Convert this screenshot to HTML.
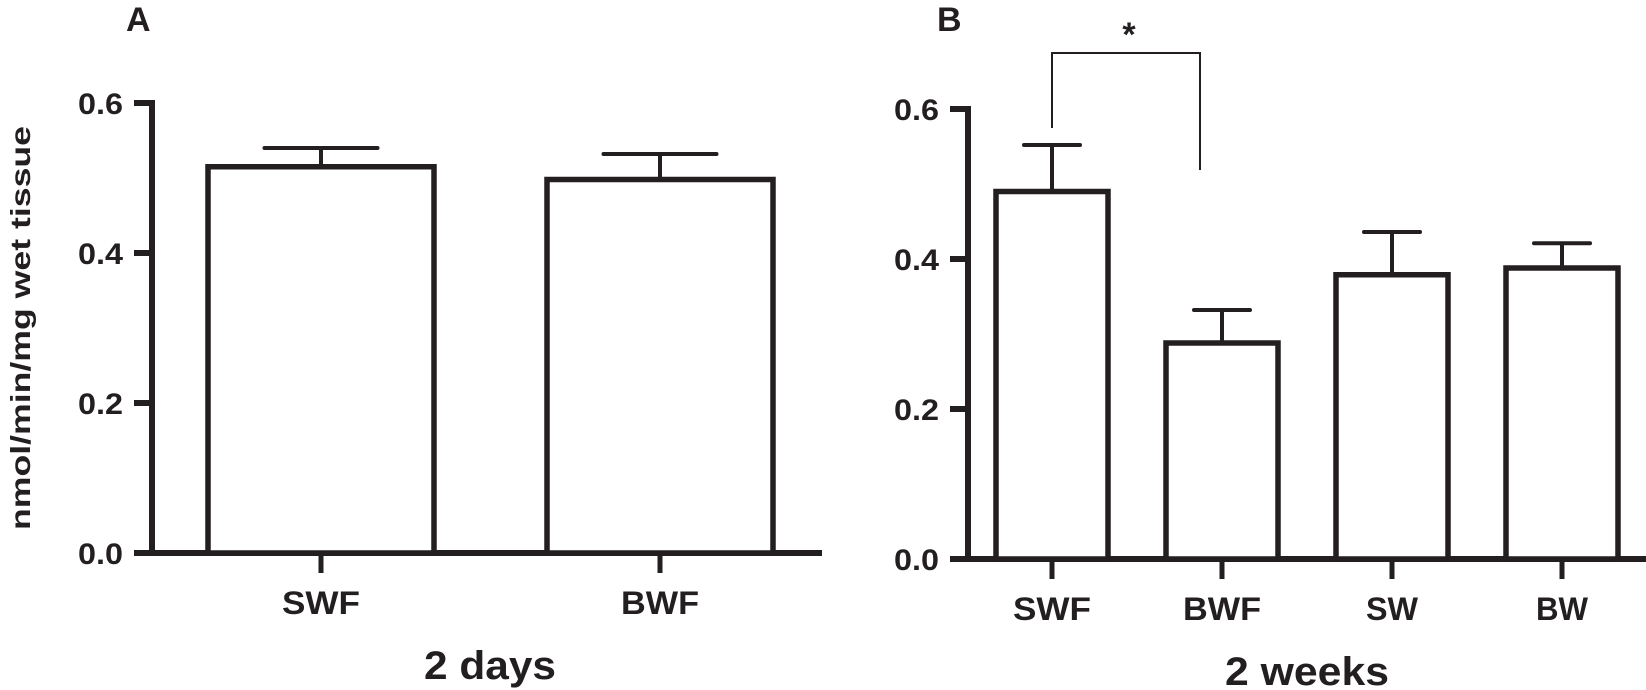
<!DOCTYPE html>
<html><head><meta charset="utf-8"><style>
html,body{margin:0;padding:0;background:#fff;}
svg{display:block;font-family:"Liberation Sans",Arial,sans-serif;font-weight:bold;}
</style></head><body>
<svg id="chart" width="1646" height="690" viewBox="0 0 1646 690">
<text x="126" y="31" font-size="34" fill="#231f20">A</text>
<text x="937" y="31" font-size="34" fill="#231f20">B</text>
<text transform="translate(30,328) rotate(-90)" text-anchor="middle" font-size="28" fill="#231f20" textLength="404" lengthAdjust="spacingAndGlyphs">nmol/min/mg wet tissue</text>
<g id="pa"></g>
<g id="pb"></g>
</svg>
<script>
const catsA = ["SWF","BWF"];
const valsA = [0.515, 0.498];
const errA = [0.540, 0.532];
const catsB = ["SWF","BWF","SW","BW"];
const valsB = [0.490, 0.288, 0.379, 0.388];
const errB = [0.552, 0.332, 0.436, 0.421];
const ticks = [0, 0.2, 0.4, 0.6];
const tickLabels = ["0.0","0.2","0.4","0.6"];

const NS = "http://www.w3.org/2000/svg";
const C = "#231f20";
function mk(parent, tag, attrs){ const e=document.createElementNS(NS,tag); for(const k in attrs) e.setAttribute(k,attrs[k]); parent.appendChild(e); return e; }

function panel(g, cfg, cats, vals, errs, title, pfx){
  const y = v => cfg.y0 - v*cfg.k;
  const x = i => cfg.xc0 + i*cfg.step;
  let e = mk(g,'line',{x1:cfg.ax,y1:y(0.6)-3,x2:cfg.ax,y2:y(0)+3,stroke:C,'stroke-width':6});
   
  e = mk(g,'line',{x1:cfg.ax-18,y1:y(0),x2:cfg.xend,y2:y(0),stroke:C,'stroke-width':6});
   
  ticks.forEach((t,i)=>{
    const l = mk(g,'line',{x1:cfg.ax-18,y1:y(t),x2:cfg.ax,y2:y(t),stroke:C,'stroke-width':6});
     
    const tx = mk(g,'text',{x:cfg.ax-29,y:y(t)+11,'text-anchor':'end','font-size':30,fill:C,textLength:45,lengthAdjust:'spacingAndGlyphs'});
    tx.textContent = tickLabels[i];
     
  });
  cats.forEach((c,i)=>{
    const cx = x(i), w = cfg.bw;
    const r = mk(g,'rect',{x:cx-w/2,y:y(vals[i]),width:w,height:y(0)-y(vals[i]),fill:'#fff',stroke:C,'stroke-width':5.5});
     
    const el = mk(g,'line',{x1:cx,y1:y(errs[i]),x2:cx,y2:y(vals[i]),stroke:C,'stroke-width':4});
     
    const cap = mk(g,'line',{x1:cx-w/4,y1:y(errs[i]),x2:cx+w/4,y2:y(errs[i]),stroke:C,'stroke-width':4,'stroke-linecap':'round'});
     
    const tk = mk(g,'line',{x1:cx,y1:y(0),x2:cx,y2:y(0)+20,stroke:C,'stroke-width':5});
     
    const lb = mk(g,'text',{x:cx,y:y(0)+61,'text-anchor':'middle','font-size':32,fill:C,textLength:c.length*26,lengthAdjust:'spacingAndGlyphs'});
    lb.textContent = c;
     
  });
  const tt = mk(g,'text',{x:cfg.titleX,y:y(0)+126,'text-anchor':'middle','font-size':40,fill:C,textLength:cfg.titleW,lengthAdjust:'spacingAndGlyphs'});
  tt.textContent = title;
   
  return {x,y};
}
const A = panel(document.getElementById('pa'), {ax:152,y0:553,k:750,xc0:321,step:339,bw:226,xend:822,titleX:490,titleW:132}, catsA, valsA, errA, "2 days", "a");
const B = panel(document.getElementById('pb'), {ax:968,y0:559,k:750,xc0:1052,step:170,bw:112,xend:1646,titleX:1307,titleW:164}, catsB, valsB, errB, "2 weeks", "b");

// significance bracket between SWF and BWF (panel B)
const gb = document.getElementById('pb');
const br = mk(gb,'polyline',{points:`${B.x(0)},${B.y(0.552)-17} ${B.x(0)},53 ${B.x(0)+148},53 ${B.x(0)+148},${B.y(0.332)-140}`,fill:'none',stroke:C,'stroke-width':2});


const st = mk(gb,'text',{x:B.x(0)+77,y:46,'text-anchor':'middle','font-size':34,fill:C});
st.textContent = '*';


</script>
</body></html>
